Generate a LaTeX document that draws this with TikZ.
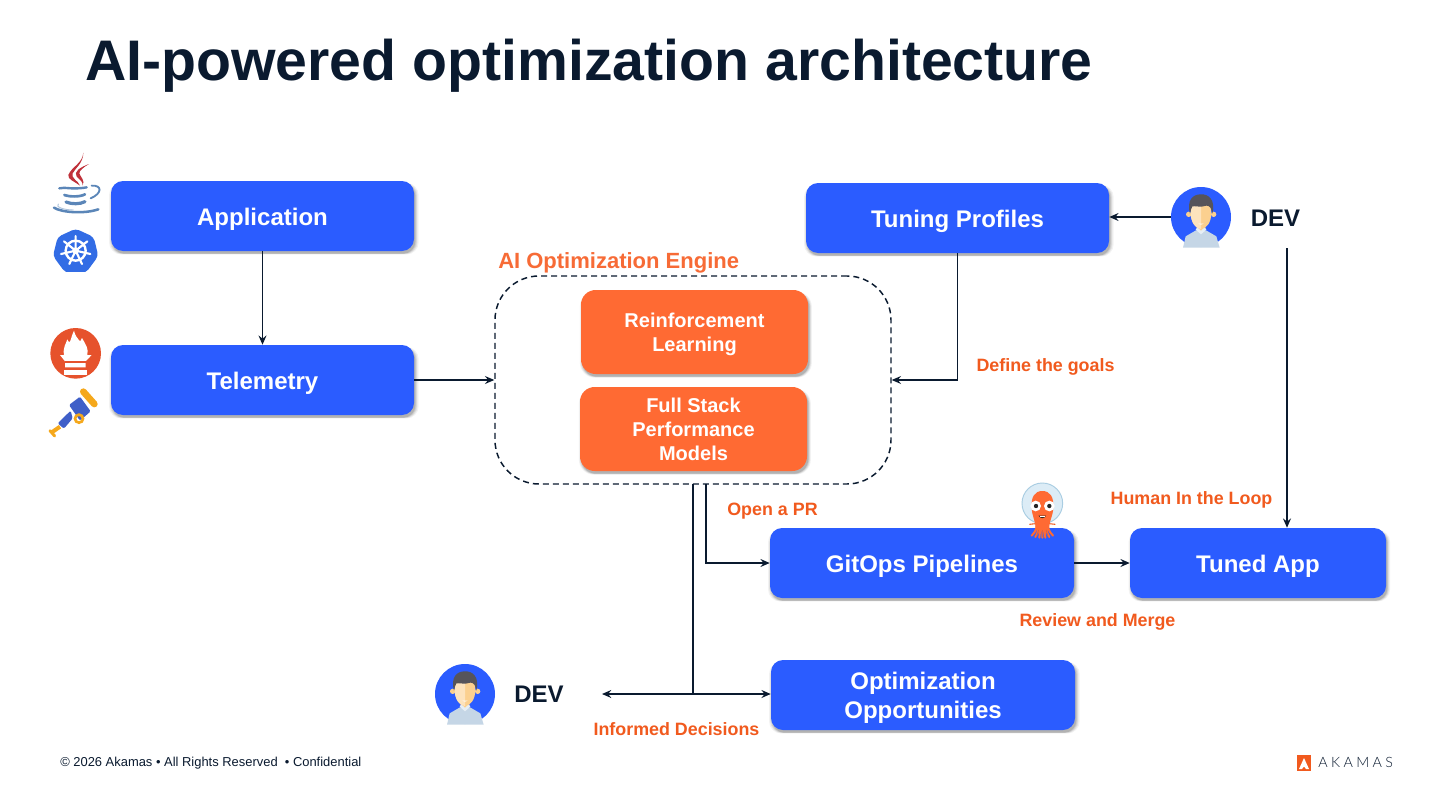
\documentclass[tikz,border=0pt]{standalone}
\usepackage{fontspec}
\setmainfont{Liberation Sans}
\newfontfamily\logofont[UprightFont=* Light,LetterSpace=24]{Lato}
\usetikzlibrary{arrows.meta,shadows}
\definecolor{ink}{HTML}{0A1A2F}
\definecolor{bluebox}{HTML}{2B5CFF}
\definecolor{orangebox}{HTML}{FF6A33}
\definecolor{labelor}{HTML}{F15A1E}
\definecolor{engineor}{HTML}{F76B36}
\definecolor{javared}{HTML}{C0313A}
\definecolor{javablue}{HTML}{5B86B8}
\definecolor{kube}{HTML}{326CE5}
\definecolor{prom}{HTML}{E6522C}
\definecolor{scopeblue}{HTML}{3F5FC8}
\definecolor{scopeyel}{HTML}{F5A81C}
\definecolor{shirt}{HTML}{C5D6E6}
\definecolor{collar}{HTML}{E6EEF5}
\definecolor{facedark}{HTML}{FBD08F}
\definecolor{facelight}{HTML}{FDE3BD}
\definecolor{hair}{HTML}{56545A}
\definecolor{helmet}{HTML}{DCECF6}
\definecolor{helmetline}{HTML}{A9CDE2}
\definecolor{tentacle}{HTML}{C8604A}
\tikzset{
  softshadow/.style={
    general shadow={shadow xshift=1pt,shadow yshift=-2pt,fill=black,opacity=.05,shadow scale=1.022},
    general shadow={shadow xshift=1pt,shadow yshift=-2pt,fill=black,opacity=.07,shadow scale=1.014},
    general shadow={shadow xshift=1pt,shadow yshift=-2pt,fill=black,opacity=.09,shadow scale=1.007},
    general shadow={shadow xshift=1pt,shadow yshift=-2pt,fill=black,opacity=.12}},
  flowbox/.style={softshadow,fill=bluebox,rounded corners=9pt,text=white,align=center,inner sep=0pt,
    font=\fontsize{18}{21.75}\selectfont\bfseries},
  oneline/.style={text height=16pt,text depth=2.5pt},
  enginebox/.style={softshadow,fill=orangebox,rounded corners=11pt,text=white,align=center,inner sep=0pt,
    minimum width=170.25pt,minimum height=63pt,font=\fontsize{15}{18}\selectfont\bfseries},
  note/.style={text=labelor,inner sep=0pt,font=\fontsize{13.4}{16}\selectfont\bfseries},
  devlabel/.style={text=ink,inner sep=0pt,font=\fontsize{18}{22}\selectfont\bfseries},
  flow/.style={draw=ink,line width=1.2pt,-{Stealth[length=7pt,width=6pt,inset=2.5pt]}},
  plainflow/.style={draw=ink,line width=1.2pt},
  avatar/.style={circle,fill=bluebox,minimum size=45pt,inner sep=0pt},
}
\newcommand{\devperson}{%
  \fill[shirt] (-54,92) -- (-46,58) -- (-15,40) -- (15,40) -- (46,58) -- (56,92) -- cycle;
  \fill[facedark] (-10,15) rectangle (10,42);
  \fill[collar] (-16,38) -- (0,52) -- (16,38) -- (11,30) -- (0,42) -- (-11,30) -- cycle;
  \fill[facedark] (-37,-8) circle (8) (38,-8) circle (8);
  \fill[facedark] (0,-12) ellipse (31 and 48);
  \fill[facelight] (-31,-12) .. controls (-31,15) and (-15,36) .. (0,36) -- (0,-58) .. controls (-18,-58) and (-31,-40) .. (-31,-12);
  \fill[hair] (-33,-10) .. controls (-44,-50) and (-24,-68) .. (-2,-68)
     .. controls (24,-70) and (44,-50) .. (34,-10) .. controls (31,-28) and (26,-34) .. (16,-34)
     .. controls (0,-28) and (-20,-34) .. (-26,-32) .. controls (-30,-26) and (-31,-18) .. (-33,-10) -- cycle;
  \fill[white] (-8,20) .. controls (-3,24) and (3,24) .. (8,20) -- cycle;
}
\begin{document}
\begin{tikzpicture}[x=.75pt,y=-.75pt]
\useasboundingbox[fill=white] (0,0) rectangle (1440,810);

\node[anchor=base west,inner sep=0pt,text=ink,font=\fontsize{42.9}{50}\selectfont\bfseries] (title) at (85,80) {AI-powered optimization architecture};

% boxes
\node[flowbox,oneline,minimum width=227.25pt,minimum height=52.5pt] (app) at (262.5,216) {Application};
\node[flowbox,oneline,minimum width=227.25pt,minimum height=52.5pt] (tel) at (262.5,380) {Telemetry};
\node[flowbox,oneline,minimum width=227.25pt,minimum height=52.5pt] (tuning) at (957.5,218) {Tuning Profiles};
\node[flowbox,oneline,minimum width=228pt,minimum height=52.5pt] (gitops) at (922,563) {GitOps Pipelines};
\node[flowbox,oneline,minimum width=192pt,minimum height=52.5pt] (tuned) at (1258,563) {Tuned App};
\node[flowbox,minimum width=228pt,minimum height=52.5pt] (opp) at (923,695) {\rule{0pt}{17.6pt}Optimization\\Opportunities};

% engine
\node[draw=ink,line width=1.1pt,dash pattern=on 4.5pt off 3pt,rounded corners=33pt,minimum width=297pt,minimum height=156pt,inner sep=0pt] (engine) at (693,380) {};
\node[anchor=base west,inner sep=0pt,text=engineor,font=\fontsize{16.5}{20}\selectfont\bfseries] (enginecap) at (498,268) {AI Optimization Engine};
\node[enginebox] (rl) at (694.5,332) {\rule{0pt}{14pt}Reinforcement\\Learning};
\node[enginebox] (fs) at (693.5,429) {Full Stack\\Performance\\Models};

% avatars and labels
\node[avatar] (devtop) at (1201,217) {};
\node[avatar] (devbot) at (465,694) {};
\node[devlabel,anchor=center] (devtoplabel) at (1275.5,218) {DEV};
\node[devlabel,anchor=center] (devbotlabel) at (539,694) {DEV};
\begin{scope}[shift={(1201,217)},x=.25pt,y=-.25pt]\devperson\end{scope}
\begin{scope}[shift={(465,694)},x=.25pt,y=-.25pt]\devperson\end{scope}

% notes
\node[note] (ngoals) at (1045.5,367) {Define the goals};
\node[note] (npr) at (772.5,511) {Open a PR};
\node[note] (nhuman) at (1191.5,500) {Human In the Loop};
\node[note] (nreview) at (1097.5,622) {Review and Merge};
\node[note] (ninformed) at (676.5,729) {Informed Decisions};

% connector ends
\coordinate (devdown) at (1287,248);
\coordinate (prdrop) at (706,484);
\coordinate (oppdrop) at (693,484);
\coordinate (junction) at (693,694);
\coordinate (devend) at (602,694);

% connectors
\draw[flow] (app.south) -- (tel.north);
\draw[flow] (tel.east) -- (engine.west);
\draw[flow] (tuning.south) |- (engine.east);
\draw[flow] (devtop.west) -- (tuning.east |- devtop.west);
\draw[flow] (devdown) -- (devdown |- tuned.north);
\draw[flow] (gitops.east) -- (tuned.west);
\draw[flow] (prdrop) |- (gitops.west);
\draw[plainflow] (oppdrop) -- (junction);
\draw[flow] (junction) -- (junction -| opp.west);
\draw[flow] (junction) -- (devend);

% java
\begin{scope}[shift={(30,140)},x=.25pt,y=-.25pt]
  \fill[javared] (160,38) .. controls (158,70) and (125,80) .. (115,105) .. controls (112,118) and (135,125) .. (150,137)
     .. controls (145,122) and (122,115) .. (128,100) .. controls (135,85) and (160,70) .. (160,38) -- cycle;
  \fill[javared] (177,72) .. controls (150,82) and (130,95) .. (140,110) .. controls (150,120) and (160,125) .. (157,137)
     .. controls (168,122) and (150,110) .. (148,100) .. controls (148,92) and (160,82) .. (177,72) -- cycle;
  \begin{scope}[javablue,line cap=round]
    \draw[line width=1.8pt] (88,145) .. controls (105,140) and (125,150) .. (170,142);
    \draw[line width=2pt] (103,165) .. controls (120,171) and (150,171) .. (165,163);
    \draw[line width=2.4pt] (108,186) .. controls (125,193) and (150,193) .. (165,185);
    \draw[line width=1.4pt] (185,137) .. controls (217,135) and (217,160) .. (182,175);
    \draw[line width=1.9pt] (72,203) .. controls (95,218) and (165,222) .. (205,208);
    \draw[line width=.7pt,javablue!50] (85,192) .. controls (75,200) and (100,210) .. (130,210);
  \end{scope}
\end{scope}

% kubernetes
\begin{scope}[shift={(30,140)},x=.25pt,y=-.25pt]
  \begin{scope}
    \clip (60,260) rectangle (215,395);
    \fill[kube,rounded corners=3pt] (137,266) -- (191,291) -- (205,348) -- (168,398) -- (106,398) -- (69,348) -- (83,291) -- cycle;
  \end{scope}
  \draw[white,line width=1.8pt] (137,332) circle (30);
  \fill[white] (137,332) circle (10);
  \draw[white,line width=1.6pt,line cap=round]
    (137,332) -- (137,288)
    (137,332) -- (172,304)
    (137,332) -- (181,342)
    (137,332) -- (156,372)
    (137,332) -- (118,372)
    (137,332) -- (93,342)
    (137,332) -- (102,304);
\end{scope}

% prometheus
\begin{scope}[shift={(30,140)},x=.25pt,y=-.25pt]
  \fill[prom] (137,640) circle (76);
  \fill[white] (102,645) .. controls (98,622) and (108,612) .. (112,598)
     .. controls (116,606) and (118,610) .. (122,600) .. controls (124,590) and (128,582) .. (132,572)
     .. controls (136,590) and (142,592) .. (148,602) .. controls (150,606) and (153,602) .. (156,594)
     .. controls (168,615) and (176,625) .. (172,645) -- cycle;
  \fill[white] (90,645) -- (185,645) -- (167,664) -- (167,682) -- (105,682) -- (105,664) -- cycle;
  \fill[prom] (105,664) rectangle (167,668);
  \fill[white] (103,690) rectangle (170,706);
\end{scope}

% telescope
\begin{scope}[shift={(30,140)},x=.25pt,y=-.25pt]
  \draw[scopeyel,line width=5pt,line cap=round] (160,755) -- (193,792);
  \fill[scopeblue,rounded corners=1pt] (117,795) -- (150,770) -- (182,814) -- (150,842) -- cycle;
  \fill[scopeblue,rounded corners=1pt] (83,850) -- (122,812) -- (128,835) -- (102,866) -- cycle;
  \draw[scopeyel,line width=2pt] (147,836) circle (12);
  \draw[scopeyel,line width=3pt] (64,878) -- (90,860);
  \draw[scopeyel,line width=2.2pt,line cap=round] (60,872) -- (74,888);
\end{scope}

% argo
\begin{scope}[shift={(1000,475)},x=.25pt,y=-.25pt]
  \fill[helmet,draw=helmetline,line width=.7pt] (127,85) circle (61);
  \draw[labelor,line width=.8pt] (88,148) -- (107,146) (147,146) -- (166,148);
  \fill[orangebox] (95,100) .. controls (92,65) and (105,48) .. (127,48)
     .. controls (150,48) and (162,65) .. (160,100)
     .. controls (158,125) and (149,135) .. (147,158) -- (107,158)
     .. controls (105,135) and (97,125) .. (95,100) -- cycle;
  \draw[orangebox,line width=1.5pt,line cap=round]
    (110,150) .. controls (110,168) and (100,175) .. (95,182)
    (116,150) .. controls (116,170) and (110,178) .. (106,186)
    (122,150) -- (118,188)
    (127,150) -- (127,188)
    (132,150) -- (136,188)
    (138,150) .. controls (138,170) and (144,178) .. (148,186)
    (144,150) .. controls (144,168) and (154,175) .. (159,182);
  \draw[tentacle,line width=.4pt] (116,165) -- (110,184) (127,165) -- (127,186) (138,165) -- (144,184);
  \fill[white] (107,93) circle (16) (148,93) circle (16);
  \fill[black!85] (108,93) circle (6.5) (148,93) circle (6.5);
  \fill[black!85] (116,122) .. controls (122,132) and (132,132) .. (138,122) -- cycle;
  \fill[white] (121,122) rectangle (134,125);
\end{scope}

% footer
\node[anchor=base west,inner sep=0pt,text=ink,font=\fontsize{9.7}{12}\selectfont] (footer) at (60,766) {© 2026 Akamas {\textbullet} All Rights Reserved \ {\textbullet} Confidential};

% akamas logo
\fill[labelor] (1297,755) rectangle (1311,771);
\fill[white] (1304,758) -- (1309,769) -- (1306,769) -- (1304,766.5) -- (1302,769) -- (1299,769) -- cycle;
\node[anchor=base west,inner sep=0pt,text=ink,font=\fontsize{10.7}{14}\logofont] (logotext) at (1318,767.5) {AKAMAS};
\end{tikzpicture}
\end{document}
